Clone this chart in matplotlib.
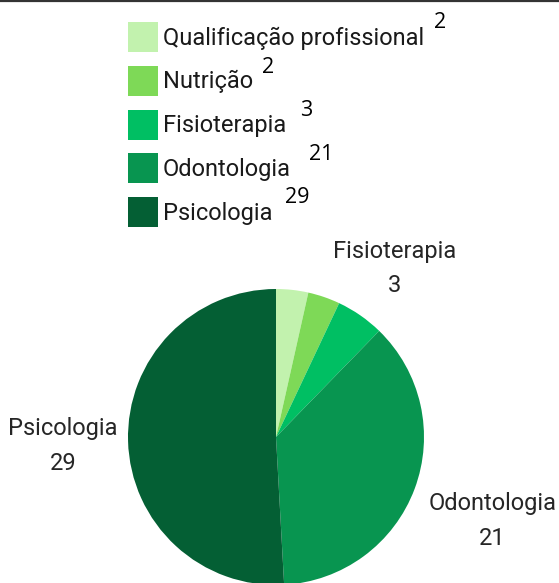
import math

import matplotlib

matplotlib.use("Agg")
import matplotlib.pyplot as plt  # noqa: E402
from matplotlib.patches import Rectangle  # noqa: E402

CATEGORIES = ["Qualificação profissional", "Nutrição", "Fisioterapia", "Odontologia", "Psicologia"]
VALUES = [2, 2, 3, 21, 29]
COLORS = ["#c2f2ae", "#7ed957", "#00bf63", "#089550", "#045f34"]
# slices labelled outside the pie, and their distance from the centre (x radius)
PIE_LABELED = [False, False, True, True, True]
PIE_LABEL_DIST = [1.4, 1.4, 1.41, 1.56, 1.44]
# legend counts sit at uneven offsets (x, y in pixels, relative to the row)
COUNT_OFFSETS = [(271, -14), (99, -13), (137, -14), (146, -14), (122, -14.5)]

W, H = 559, 583
CX, CY, R = 276, 437, 148
TEXT_FONT = ["Roboto", "DejaVu Sans"]
NUM_FONT = ["Open Sans", "DejaVu Sans"]


def y(py):
    return H - py


fig = plt.figure(figsize=(W / 100, H / 100), dpi=100)
ax = fig.add_axes([0, 0, 1, 1])

ax.pie(
    VALUES,
    colors=COLORS,
    center=(CX, y(CY)),
    radius=R,
    startangle=90,
    counterclock=False,
    wedgeprops={"linewidth": 0},
)

total = sum(VALUES)
start = 0.0
for value, name, shown, dist in zip(VALUES, CATEGORIES, PIE_LABELED, PIE_LABEL_DIST):
    mid = (start + value / 2) / total * 2 * math.pi
    start += value
    if not shown:
        continue
    tx = CX + dist * R * math.sin(mid)
    ty = CY - dist * R * math.cos(mid)
    ax.text(tx, y(ty + 3), f"{name}\n{value}", ha="center", va="center",
            fontsize=17, color="#262626", family=TEXT_FONT, linespacing=1.65)

# legend
row0, step = 22, 43.8
for index, (name, value, color) in enumerate(zip(CATEGORIES, VALUES, COLORS)):
    top = row0 + index * step
    ax.add_patch(Rectangle((128, y(top + 30)), 30, 30, facecolor=color, edgecolor="none"))
    ax.text(163, y(top + 16), name, ha="left", va="center", fontsize=17,
            color="#1a1a1a", family=TEXT_FONT)
    dx, dy = COUNT_OFFSETS[index]
    ax.text(163 + dx, y(top + 15 + dy), str(value), ha="left", va="center",
            fontsize=15.5, color="#000000", family=NUM_FONT)

# top rule
ax.plot([0, W], [y(1), y(1)], color="#333333", lw=1.6, solid_capstyle="butt")

ax.set_xlim(0, W)
ax.set_ylim(0, H)
ax.set_aspect("auto")
ax.axis("off")
fig.savefig("out.png", dpi=100)
